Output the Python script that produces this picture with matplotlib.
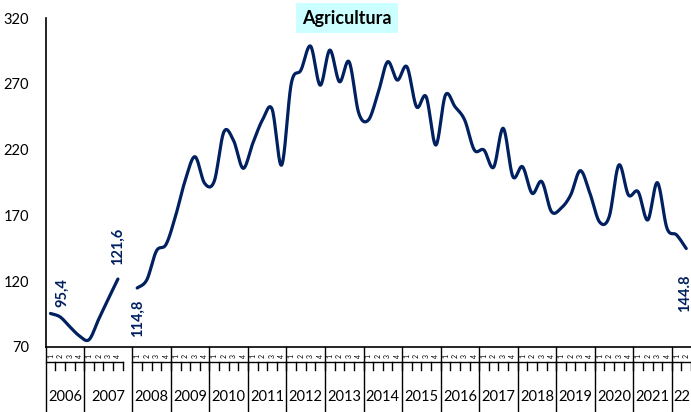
import numpy as np
import matplotlib
matplotlib.use("Agg")
import matplotlib.pyplot as plt
from matplotlib.transforms import blended_transform_factory

# quarterly index, 2006-2007 and 2008-2022 are drawn as two separate pieces
years = ["2006", "2007", "2008", "2009", "2010", "2011", "2012", "2013",
         "2014", "2015", "2016", "2017", "2018", "2019", "2020", "2021", "22"]
quarters_per_year = [4, 4, 4, 4, 4, 4, 4, 4, 4, 4, 4, 4, 4, 4, 4, 4, 2]
blank_after = "2007"   # one empty category between 2007 and 2008

serie_a = [95.4, 92.8, 85.4, 78.4, 75.5, 91.0, 106.5, 121.6]
serie_b = [114.8, 121.0, 143.0, 148.0,
           170.0, 197.0, 214.6, 194.4,
           196.0, 233.5, 227.0, 205.8,
           224.8, 242.5, 250.9, 208.3,
           270.4, 280.5, 298.7, 269.0,
           295.7, 271.6, 286.8, 247.8,
           242.5, 262.8, 286.8, 272.9,
           283.0, 252.6, 260.2, 223.5,
           261.5, 252.6, 242.5, 219.7,
           219.7, 206.6, 236.2, 199.5,
           207.0, 186.8, 195.7, 172.9,
           175.4, 185.5, 204.0, 186.8,
           165.0, 169.0, 208.3, 185.5,
           188.0, 166.5, 194.9, 160.2,
           155.1, 144.8]

navy = "#002060"
font = ["Lato", "DejaVu Sans"]
plt.rcParams["font.family"] = font


def smooth(x, y, steps=20):
    # Catmull-Rom curve through the points (like a smoothed line in a spreadsheet)
    x = np.asarray(x, float)
    y = np.asarray(y, float)
    px = np.concatenate([[x[0]], x, [x[-1]]])
    py = np.concatenate([[y[0]], y, [y[-1]]])
    outx, outy = [], []
    t = np.linspace(0, 1, steps, endpoint=False)
    for i in range(1, len(px) - 2):
        x0, x1, x2, x3 = px[i - 1:i + 3]
        y0, y1, y2, y3 = py[i - 1:i + 3]
        c1x, c1y = x1 + (x2 - x0) / 6, y1 + (y2 - y0) / 6
        c2x, c2y = x2 - (x3 - x1) / 6, y2 - (y3 - y1) / 6
        b0, b1, b2, b3 = (1 - t) ** 3, 3 * t * (1 - t) ** 2, 3 * t ** 2 * (1 - t), t ** 3
        outx.extend(b0 * x1 + b1 * c1x + b2 * c2x + b3 * x2)
        outy.extend(b0 * y1 + b1 * c1y + b2 * c2y + b3 * y2)
    outx.append(x[-1])
    outy.append(y[-1])
    return outx, outy


# category layout
year_start = []
pos = 0
for yr, nq in zip(years, quarters_per_year):
    year_start.append(pos)
    pos += nq + (1 if yr == blank_after else 0)
n_cat = pos

xa = np.arange(len(serie_a))
xb = np.arange(len(serie_b)) + year_start[2]

fig = plt.figure(figsize=(6.91, 4.12), dpi=100)
ax = fig.add_axes([0.0661, 0.158, 0.934, 0.798])

for xs, ys in [(xa, serie_a), (xb, serie_b)]:
    sx, sy = smooth(xs, ys)
    ax.plot(sx, sy, color=navy, lw=2.3, solid_capstyle="round")

ax.set_xlim(-0.5, n_cat - 0.5)
ax.set_ylim(70, 320)
ax.set_yticks(np.arange(70, 321, 50))
ax.tick_params(axis="y", length=0, pad=12, labelsize=10.5)
ax.set_xticks([])
for s in ["top", "right"]:
    ax.spines[s].set_visible(False)
ax.spines["left"].set_linewidth(1.2)
ax.spines["bottom"].set_linewidth(1.2)

# data labels
lbl = dict(color=navy, fontsize=10.5, fontweight="bold", rotation=90,
           ha="center", va="center")
ax.text(xa[0] + 1.2, serie_a[0] + 16, "95,4", **lbl)
ax.text(xa[-1], serie_a[-1] + 25, "121,6", **lbl)
ax.text(xb[0] + 0.1, serie_b[0] - 23, "114,8", **lbl)
ax.text(xb[-1] - 0.1, serie_b[-1] - 34, "144.8", **lbl)

# two-level category axis: quarters and years
tr = blended_transform_factory(ax.transData, ax.transAxes)
line_kw = dict(transform=tr, color="black", lw=1.0, clip_on=False)
for i, (yr, nq) in enumerate(zip(years, quarters_per_year)):
    s = year_start[i]
    width = nq + (1 if yr == blank_after else 0)
    ax.plot([s - 0.5, s - 0.5], [0, -0.2], **line_kw)
    ax.plot([s - 0.5, s + nq - 0.5], [-0.046, -0.046], **line_kw)
    for q in range(nq):
        ax.text(s + q, -0.027, str(q + 1), transform=tr, rotation=90,
                ha="center", va="center", fontsize=5)
        ax.plot([s + q + 0.5, s + q + 0.5], [-0.046, -0.07], **line_kw)
    ax.text(s - 0.5 + width / 2, -0.152, yr, transform=tr,
            ha="center", va="center", fontsize=10.5)

ax.text(0.467, 1.0, "Agricultura", transform=ax.transAxes, ha="center",
        va="center", fontsize=13, fontweight="bold",
        bbox=dict(boxstyle="square,pad=0.35", fc="#CCFFFF", ec="none"))

fig.savefig("out.png", dpi=100)
